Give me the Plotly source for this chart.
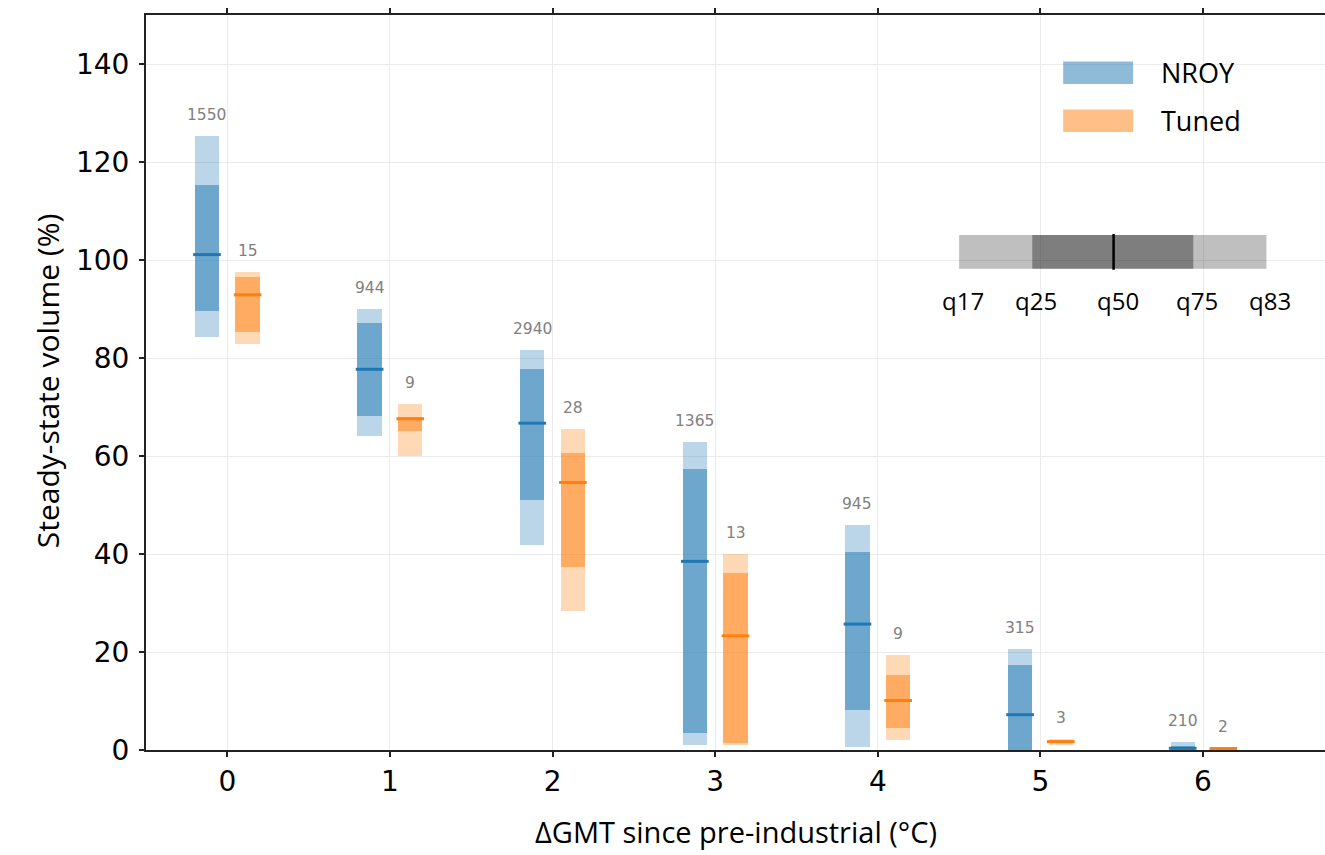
import plotly.graph_objects as go

# ---------------- data ----------------
gmt = [0, 1, 2, 3, 4, 5, 6]

nroy_q17 = [84.3, 64.1, 41.8, 1.0, 0.7, 0.0, 0.0]
nroy_q25 = [89.5, 68.2, 51.0, 3.5, 8.2, 0.1, 0.0]
nroy_q50 = [101.1, 77.7, 66.7, 38.5, 25.7, 7.2, 0.35]
nroy_q75 = [115.4, 87.1, 77.7, 57.3, 40.5, 17.3, 0.9]
nroy_q83 = [125.4, 90.1, 81.6, 62.9, 45.9, 20.6, 1.6]
nroy_n = [1550, 944, 2940, 1365, 945, 315, 210]

tuned_q17 = [82.9, 60.0, 28.4, 1.0, 2.0, 1.1, 0.2]
tuned_q25 = [85.4, 65.1, 37.4, 1.5, 4.4, 1.4, 0.25]
tuned_q50 = [92.9, 67.6, 54.6, 23.3, 10.1, 1.7, 0.3]
tuned_q75 = [96.6, 68.0, 60.7, 36.1, 15.3, 2.0, 0.35]
tuned_q83 = [97.6, 70.7, 65.5, 40.0, 19.3, 2.3, 0.4]
tuned_n = [15, 9, 28, 13, 9, 3, 2]

series_names = ["NROY", "Tuned"]
key_labels = ["q17", "q25", "q50", "q75", "q83"]
x_ticks = [0, 1, 2, 3, 4, 5, 6]
y_ticks = [0, 20, 40, 60, 80, 100, 120, 140]

# ---------------- style ----------------
BLUE = (31, 119, 180)
ORANGE = (255, 127, 14)
OFFSET = 0.125
BAR_W = 0.15
MED_HALF = 0.085
TEXT_FONT = "Open Sans"


def rgba(c, a):
    return f"rgba({c[0]},{c[1]},{c[2]},{a})"


fig = go.Figure()
annotations = []
shapes = []


def add_series(name, col, off, q17, q25, q50, q75, q83, counts):
    xs = [g + off for g in gmt]
    fig.add_trace(go.Bar(x=xs, base=q17, y=[b - a for a, b in zip(q17, q83)],
                         width=BAR_W, marker=dict(color=rgba(col, 0.3), line=dict(width=0)),
                         showlegend=False, hoverinfo="skip"))
    fig.add_trace(go.Bar(x=xs, base=q25, y=[b - a for a, b in zip(q25, q75)],
                         width=BAR_W, marker=dict(color=rgba(col, 0.5), line=dict(width=0)),
                         showlegend=False, hoverinfo="skip"))
    lx, ly = [], []
    for x, m in zip(xs, q50):
        lx += [x - MED_HALF, x + MED_HALF, None]
        ly += [m, m, None]
    fig.add_trace(go.Scatter(x=lx, y=ly, mode="lines",
                             line=dict(color=rgba(col, 1), width=3),
                             showlegend=False, hoverinfo="skip"))
    for x, top, n in zip(xs, q83, counts):
        annotations.append(dict(x=x, y=top, xref="x", yref="y", text=str(n),
                                showarrow=False, yanchor="bottom", yshift=10,
                                font=dict(family="DejaVu Sans", size=15.5, color="#808080")))


add_series("NROY", BLUE, -OFFSET, nroy_q17, nroy_q25, nroy_q50, nroy_q75, nroy_q83, nroy_n)
add_series("Tuned", ORANGE, OFFSET, tuned_q17, tuned_q25, tuned_q50, tuned_q75, tuned_q83, tuned_n)

# ---------------- legend (manual, matplotlib-like patches) ----------------
leg_rows = [(series_names[0], BLUE, 138.2), (series_names[1], ORANGE, 128.4)]
for name, col, yc in leg_rows:
    shapes.append(dict(type="rect", xref="x", yref="y", x0=5.14, x1=5.57,
                       y0=yc - 2.3, y1=yc + 2.3, fillcolor=rgba(col, 0.5),
                       line=dict(width=0), layer="above"))
    annotations.append(dict(x=5.73, y=yc, xref="x", yref="y", text=name,
                            showarrow=False, xanchor="left", yanchor="middle",
                            font=dict(family=TEXT_FONT, size=27, color="black")))

# ---------------- quantile key ----------------
key_x = [4.5, 4.95, 5.45, 5.94, 6.39]
ky0, ky1 = 98.2, 105.1
shapes.append(dict(type="rect", xref="x", yref="y", x0=key_x[0], x1=key_x[4], y0=ky0, y1=ky1,
                   fillcolor="rgba(0,0,0,0.25)", line=dict(width=0), layer="above"))
shapes.append(dict(type="rect", xref="x", yref="y", x0=key_x[1], x1=key_x[3], y0=ky0, y1=ky1,
                   fillcolor="rgba(0,0,0,0.34)", line=dict(width=0), layer="above"))
shapes.append(dict(type="line", xref="x", yref="y", x0=key_x[2], x1=key_x[2], y0=ky0 - 0.2, y1=ky1 + 0.2,
                   line=dict(color="black", width=2.5), layer="above"))
for kx, lab in zip(key_x, key_labels):
    annotations.append(dict(x=kx, y=91.8, xref="x", yref="y", text=lab, showarrow=False,
                            xanchor="center", yanchor="middle", xshift=4,
                            font=dict(family=TEXT_FONT, size=24, color="black")))

# ---------------- axis titles ----------------
annotations.append(dict(x=0.5, y=-0.1115, xref="paper", yref="paper",
                        text="ΔGMT since pre-industrial (°C)", showarrow=False,
                        xanchor="center", yanchor="middle",
                        font=dict(family=TEXT_FONT, size=29, color="black")))
annotations.append(dict(x=-0.084, y=0.503, xref="paper", yref="paper",
                        text="Steady-state volume (%)", showarrow=False, textangle=-90,
                        xanchor="center", yanchor="middle",
                        font=dict(family=TEXT_FONT, size=30, color="black")))

fig.update_layout(
    width=1325, height=855,
    margin=dict(l=146, r=0, t=15, b=105),
    paper_bgcolor="white", plot_bgcolor="white",
    barmode="overlay", bargap=0,
    showlegend=False,
    annotations=annotations, shapes=shapes,
    xaxis=dict(range=[-0.5, 6.75], tickvals=x_ticks, ticktext=[str(t) for t in x_ticks],
               showgrid=True, gridcolor="#ebebeb", gridwidth=1, zeroline=False,
               showline=True, linecolor="#222222", linewidth=2, mirror="ticks",
               ticks="outside", ticklen=5, tickwidth=2, tickcolor="#222222",
               tickfont=dict(family="DejaVu Sans", size=28, color="black")),
    yaxis=dict(range=[0, 150], tickvals=y_ticks, ticktext=[str(t) for t in y_ticks],
               showgrid=True, gridcolor="#ebebeb", gridwidth=1, zeroline=False,
               showline=True, linecolor="#222222", linewidth=2,
               ticks="outside", ticklen=5, tickwidth=1.5, tickcolor="#222222",
               ticklabelstandoff=4,
               tickfont=dict(family="DejaVu Sans", size=28, color="black")),
)

fig.write_html("out.html")
